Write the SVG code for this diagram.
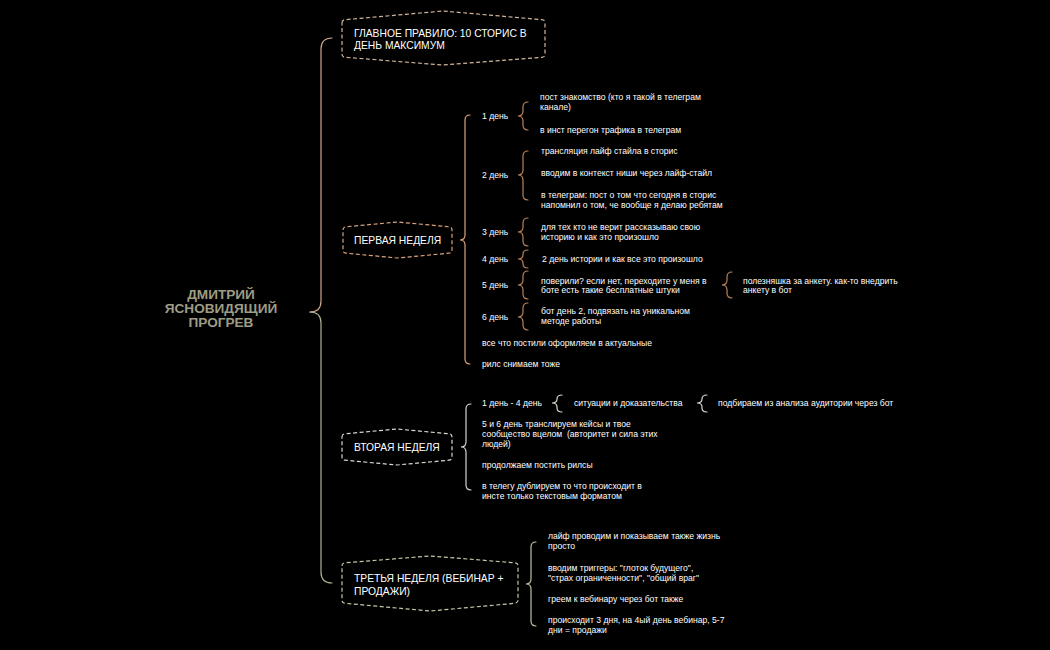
<svg xmlns="http://www.w3.org/2000/svg" width="1050" height="650" viewBox="0 0 1050 650">
<style>
.bg{fill:#000}
.node{fill:none;stroke-width:1.2;stroke-dasharray:4 2.5}
.nt{font-family:"Liberation Sans",Arial,sans-serif;font-size:10.3px;fill:#ffffff}
.t{font-family:"Liberation Sans",Arial,sans-serif;font-size:8.6px;fill:#ffffff;white-space:pre}
.root{font-family:"Liberation Sans",Arial,sans-serif;font-size:13.6px;font-weight:bold;fill:#9d9c84}
.br{fill:none;stroke-width:1.2;stroke-linecap:round}
.c1{stroke:#d9a27c}
.c1s{stroke:#b98259}
.c2{stroke:#d6d6ce}
.c3{stroke:#c2bfa0}
</style>
<rect class="bg" x="0" y="0" width="1050" height="650"/>

<g id="connectors">
  <path class="br" stroke="#cda58b" d="M332,38 Q321,38 321,49 L321,301 Q321,312 310,312"/>
  <path class="br" stroke="#b3b195" d="M310,312 Q321,312 321,323 L321,572 Q321,583 332,583"/>
  <path class="br c1" d="M470,115 Q465,115 465,120 L465,235 Q465,240 460,240 Q465,240 465,245 L465,359 Q465,364 470,364"/>
  <path class="br c1s" d="M528,102 Q523,102 523,107 L523,111 Q523,116 518,116 Q523,116 523,121 L523,125 Q523,130 528,130"/>
  <path class="br c1s" d="M528,151 Q523,151 523,156 L523,170 Q523,175 518,175 Q523,175 523,180 L523,195 Q523,200 528,200"/>
  <path class="br c1s" d="M528,218 Q523,218 523,223 L523,227 Q523,232 518,232 Q523,232 523,237 L523,241 Q523,246 528,246"/>
  <path class="br c1s" d="M528,250 Q523,250 523,254 L523,255 Q523,259 518,259 Q523,259 523,263 L523,264 Q523,268 528,268"/>
  <path class="br c1s" d="M528,271 Q523,271 523,276 L523,280 Q523,285 518,285 Q523,285 523,290 L523,294 Q523,299 528,299"/>
  <path class="br c1s" d="M528,303 Q523,303 523,308 L523,312 Q523,317 518,317 Q523,317 523,322 L523,325 Q523,330 528,330"/>
  <path class="br c1s" d="M732,272 Q727,272 727,277 L727,280 Q727,285 722,285 Q727,285 727,290 L727,293 Q727,298 732,298"/>
  <path class="br c2" d="M471,404 Q466,404 466,409 L466,442 Q466,447 461,447 Q466,447 466,452 L466,485 Q466,490 471,490"/>
  <path class="br c2" d="M562,395 Q557,395 557,399 L557,399 Q557,403 552,403 Q557,403 557,407 L557,408 Q557,412 562,412"/>
  <path class="br c2" d="M707,395 Q702,395 702,399 L702,399 Q702,403 697,403 Q702,403 702,407 L702,408 Q702,412 707,412"/>
  <path class="br c3" d="M536,542 Q531,542 531,547 L531,579 Q531,584 526,584 Q531,584 531,589 L531,621 Q531,626 536,626"/>
</g>

<g id="root">
  <text class="root" x="221" y="299" text-anchor="middle">ДМИТРИЙ</text>
  <text class="root" x="221" y="313" text-anchor="middle">ЯСНОВИДЯЩИЙ</text>
  <text class="root" x="221" y="327" text-anchor="middle">ПРОГРЕВ</text>
</g>

<g id="node-rule">
  <path class="node" stroke="#d1b49b" d="M342,23 Q342,20 345,19.7 L443,11 L542,19.7 Q545,20 545,23 L545,54 Q545,57 542,57.3 L443,65 L345,57.3 Q342,57 342,54 Z"/>
  <text class="nt" x="354" y="36.5">ГЛАВНОЕ ПРАВИЛО: 10 СТОРИС В</text>
  <text class="nt" x="354" y="48.5">ДЕНЬ МАКСИМУМ</text>
</g>

<g id="node-week1">
  <path class="node" stroke="#d9a27c" d="M343,230 Q343,227 346,226.8 L397.5,222 L449,226.8 Q452,227 452,230 L452,250 Q452,253 449,253.2 L397.5,258 L346,253.2 Q343,253 343,250 Z"/>
  <text class="nt" x="354" y="243.5">ПЕРВАЯ НЕДЕЛЯ</text>
</g>

<g id="week1-children">
  <text class="t" x="482" y="119">1 день</text>
  <text class="t" x="540" y="100">пост знакомство (кто я такой в телеграм</text>
  <text class="t" x="540" y="110">канале)</text>
  <text class="t" x="540" y="133">в инст перегон трафика в телеграм</text>

  <text class="t" x="482" y="178">2 день</text>
  <text class="t" x="541" y="154">трансляция лайф стайла в сторис</text>
  <text class="t" x="541" y="176">вводим в контекст ниши через лайф-стайл</text>
  <text class="t" x="541" y="198">в телеграм: пост о том что сегодня в сторис</text>
  <text class="t" x="541" y="208">напомнил о том, че вообще я делаю ребятам</text>

  <text class="t" x="482" y="235">3 день</text>
  <text class="t" x="541" y="230">для тех кто не верит рассказываю свою</text>
  <text class="t" x="541" y="240">историю и как это произошло</text>

  <text class="t" x="482" y="262">4 день</text>
  <text class="t" x="542" y="262">2 день истории и как все это произошло</text>

  <text class="t" x="482" y="288">5 день</text>
  <text class="t" x="541" y="284">поверили? если нет, переходите у меня в</text>
  <text class="t" x="541" y="293">боте есть такие бесплатные штуки</text>
  <text class="t" x="743" y="284">полезняшка за анкету. как-то внедрить</text>
  <text class="t" x="743" y="293">анкету в бот</text>

  <text class="t" x="482" y="320">6 день</text>
  <text class="t" x="541" y="314">бот день 2, подвязать на уникальном</text>
  <text class="t" x="541" y="324">методе работы</text>

  <text class="t" x="482" y="346">все что постили оформляем в актуальные</text>
  <text class="t" x="482" y="367">рилс снимаем тоже</text>
</g>

<g id="node-week2">
  <path class="node" stroke="#d6d6ce" d="M342,437 Q342,434 345,433.8 L397,429 L449,433.8 Q452,434 452,437 L452,457 Q452,460 449,460.2 L397,465 L345,460.2 Q342,460 342,457 Z"/>
  <text class="nt" x="354" y="450.5">ВТОРАЯ НЕДЕЛЯ</text>
</g>

<g id="week2-children">
  <text class="t" x="482" y="406">1 день - 4 день</text>
  <text class="t" x="574" y="406">ситуации и доказательства</text>
  <text class="t" x="718" y="406">подбираем из анализа аудитории через бот</text>
  <text class="t" x="482" y="427">5 и 6 день транслируем кейсы и твое</text>
  <text class="t" x="482" y="437" xml:space="preserve">сообщество вцелом  (авторитет и сила этих</text>
  <text class="t" x="482" y="447">людей)</text>
  <text class="t" x="482" y="468">продолжаем постить рилсы</text>
  <text class="t" x="482" y="489">в телегу дублируем то что происходит в</text>
  <text class="t" x="482" y="499">инсте только текстовым форматом</text>
</g>

<g id="node-week3">
  <path class="node" stroke="#c9c6a6" d="M342,566 Q342,563 345,562.8 L430,556 L515,562.8 Q518,563 518,566 L518,600 Q518,603 515,603.3 L430,611 L345,603.3 Q342,603 342,600 Z"/>
  <text class="nt" x="354" y="581.5">ТРЕТЬЯ НЕДЕЛЯ (ВЕБИНАР +</text>
  <text class="nt" x="354" y="594.5">ПРОДАЖИ)</text>
</g>

<g id="week3-children">
  <text class="t" x="548" y="539">лайф проводим и показываем также жизнь</text>
  <text class="t" x="548" y="549">просто</text>
  <text class="t" x="548" y="571">вводим триггеры: "глоток будущего",</text>
  <text class="t" x="548" y="581">"страх ограниченности", "общий враг"</text>
  <text class="t" x="548" y="602">греем к вебинару через бот также</text>
  <text class="t" x="548" y="623">происходит 3 дня, на 4ый день вебинар, 5-7</text>
  <text class="t" x="548" y="633">дни = продажи</text>
</g>
</svg>
